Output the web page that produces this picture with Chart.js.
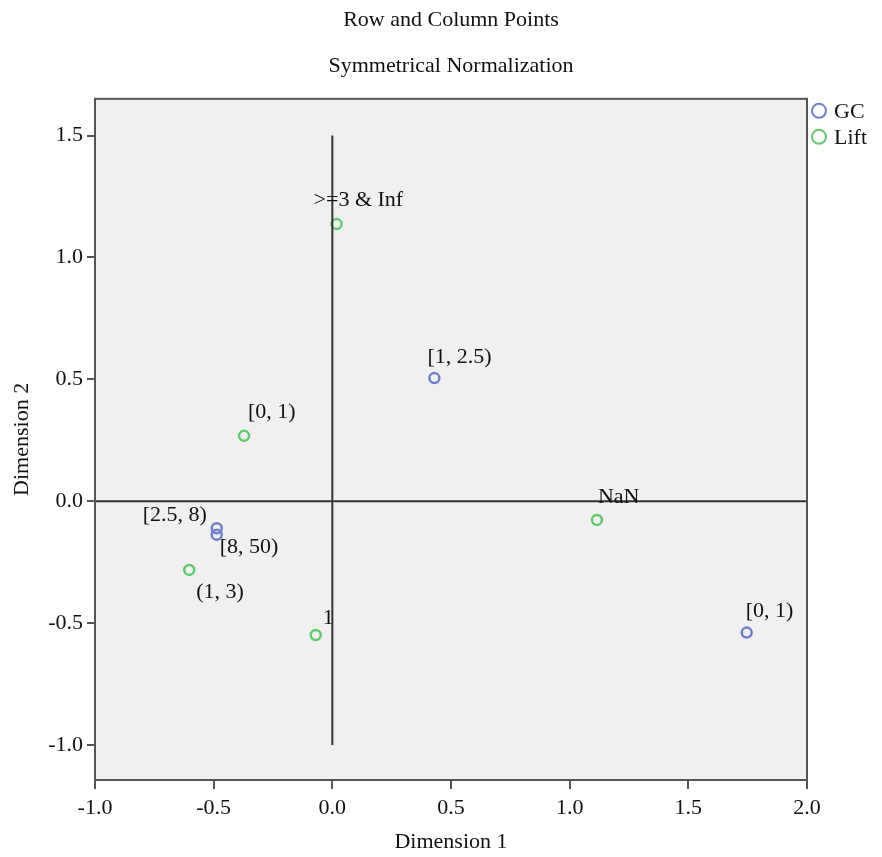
<!DOCTYPE html>
<html>
<head>
<meta charset="utf-8">
<title>Row and Column Points</title>
<script src="https://cdn.jsdelivr.net/npm/chart.js@4"></script>
<style>
    html, body { margin: 0; padding: 0; background: #fff; }
    #wrap { width: 882px; height: 857px; position: relative; }
</style>
</head>
<body>
<div id="wrap"><canvas id="cpChart"></canvas></div>
<script>
// GC (satır noktaları)
const gcLabels = ['[1, 2.5)', '[2.5, 8)', '[8, 50)', '[0, 1)'];
const gcX = [0.43, -0.487, -0.487, 1.746];
const gcY = [0.505, -0.111, -0.138, -0.539];

// Lift (sütun noktaları)
const liftLabels = ['>=3 & Inf', '[0, 1)', '(1, 3)', '1', 'NaN'];
const liftX = [0.018, -0.372, -0.603, -0.07, 1.115];
const liftY = [1.137, 0.268, -0.282, -0.549, -0.077];

// eksen işaretleri
const xTicks = [-1.0, -0.5, 0.0, 0.5, 1.0, 1.5, 2.0];
const yTicks = [-1.0, -0.5, 0.0, 0.5, 1.0, 1.5];

// referans çizgileri
const vLineX = [0, 0];
const vLineY = [-1.0, 1.5];
const hLineX = [-1.0, 2.0];
const hLineY = [0, 0];

// etiket kaydırmaları (piksel)
const gcOffsets = [[-7, -21], [-74, -13], [3, 12], [-1, -21]];
const liftOffsets = [[-23, -24], [4, -24], [7, 22], [7, -17], [1, -23]];

const FONT = 'Liberation Serif, Times New Roman, serif';
const toPoints = (xs, ys) => xs.map((x, i) => ({ x: x, y: ys[i] }));

const plotBox = {
    id: 'plotBox',
    beforeDraw(chart) {
        const { ctx, chartArea: a } = chart;
        ctx.save();
        ctx.fillStyle = '#f0f0f0';
        ctx.fillRect(a.left, a.top, a.right - a.left, a.bottom - a.top);
        ctx.restore();
    },
    afterDraw(chart) {
        const { ctx, chartArea: a } = chart;
        ctx.save();
        ctx.strokeStyle = '#555';
        ctx.lineWidth = 2;
        ctx.strokeRect(a.left, a.top, a.right - a.left, a.bottom - a.top);
        ctx.restore();
    }
};

const pointLabels = {
    id: 'pointLabels',
    afterDatasetsDraw(chart) {
        const ctx = chart.ctx;
        ctx.save();
        ctx.font = '22px ' + FONT;
        ctx.fillStyle = '#111';
        ctx.textAlign = 'left';
        ctx.textBaseline = 'middle';
        chart.data.datasets.forEach((ds, i) => {
            if (!ds.pointNames) return;
            chart.getDatasetMeta(i).data.forEach((el, j) => {
                const off = ds.labelOffsets[j];
                ctx.fillText(ds.pointNames[j], el.x + off[0], el.y + off[1]);
            });
        });
        ctx.restore();
    }
};

const sideLegend = {
    id: 'sideLegend',
    afterDraw(chart) {
        const ctx = chart.ctx;
        const x = chart.chartArea.right + 12;
        ctx.save();
        ctx.font = '22px ' + FONT;
        ctx.fillStyle = '#111';
        ctx.textBaseline = 'middle';
        chart.data.datasets.filter(ds => ds.pointNames).forEach((ds, i) => {
            const y = chart.chartArea.top + 12 + i * 26;
            ctx.beginPath();
            ctx.arc(x, y, 7, 0, Math.PI * 2);
            ctx.strokeStyle = ds.borderColor;
            ctx.lineWidth = 2;
            ctx.stroke();
            ctx.fillText(ds.label, x + 15, y + 1);
        });
        ctx.restore();
    }
};

new Chart(document.getElementById('cpChart'), {
    type: 'scatter',
    data: {
        datasets: [{
            label: 'vline',
            data: toPoints(vLineX, vLineY),
            showLine: true,
            borderColor: '#333',
            borderWidth: 2,
            pointRadius: 0
        }, {
            label: 'hline',
            data: toPoints(hLineX, hLineY),
            showLine: true,
            borderColor: '#333',
            borderWidth: 2,
            pointRadius: 0
        }, {
            label: 'GC',
            data: toPoints(gcX, gcY),
            pointNames: gcLabels,
            labelOffsets: gcOffsets,
            borderColor: '#7080c8',
            backgroundColor: 'rgba(0,0,0,0)',
            borderWidth: 2.5,
            pointRadius: 5
        }, {
            label: 'Lift',
            data: toPoints(liftX, liftY),
            pointNames: liftLabels,
            labelOffsets: liftOffsets,
            borderColor: '#64c86c',
            backgroundColor: 'rgba(0,0,0,0)',
            borderWidth: 2.5,
            pointRadius: 5
        }]
    },
    options: {
        responsive: true,
        maintainAspectRatio: false,
        animation: false,
        layout: { padding: { top: 0, right: 75, bottom: 0, left: 0 } },
        plugins: {
            legend: { display: false },
            tooltip: { enabled: false },
            title: {
                display: true,
                fullSize: false,
                text: 'Row and Column Points',
                color: '#111',
                font: { family: FONT, size: 22, weight: 'normal' },
                padding: { top: 7, bottom: 20 }
            },
            subtitle: {
                display: true,
                fullSize: false,
                text: 'Symmetrical Normalization',
                color: '#111',
                font: { family: FONT, size: 22, weight: 'normal' },
                padding: { top: 0, bottom: 19 }
            }
        },
        scales: {
            x: {
                type: 'linear',
                min: -1.0,
                max: 2.0,
                afterBuildTicks: s => { s.ticks = xTicks.map(v => ({ value: v })); },
                afterFit: s => { s.height = 77; },
                ticks: {
                    color: '#111',
                    font: { family: FONT, size: 22 },
                    padding: 6,
                    maxRotation: 0,
                    callback: v => v.toFixed(1)
                },
                grid: { drawOnChartArea: false, color: '#555', lineWidth: 2, tickLength: 9 },
                border: { display: true, color: '#555', width: 2 },
                title: {
                    display: true,
                    text: 'Dimension 1',
                    color: '#111',
                    font: { family: FONT, size: 22 },
                    padding: { top: 0, bottom: 2 }
                }
            },
            y: {
                type: 'linear',
                min: -1.144,
                max: 1.651,
                afterBuildTicks: s => { s.ticks = yTicks.map(v => ({ value: v })); },
                afterFit: s => { s.width = 95; },
                ticks: {
                    color: '#111',
                    font: { family: FONT, size: 22 },
                    padding: 4,
                    callback: v => v.toFixed(1)
                },
                grid: { drawOnChartArea: false, color: '#555', lineWidth: 2, tickLength: 8 },
                border: { display: true, color: '#555', width: 2 },
                title: {
                    display: true,
                    text: 'Dimension 2',
                    color: '#111',
                    font: { family: FONT, size: 22 },
                    padding: { top: 9, bottom: 0 }
                }
            }
        }
    },
    plugins: [plotBox, pointLabels, sideLegend]
});
</script>
</body>
</html>
